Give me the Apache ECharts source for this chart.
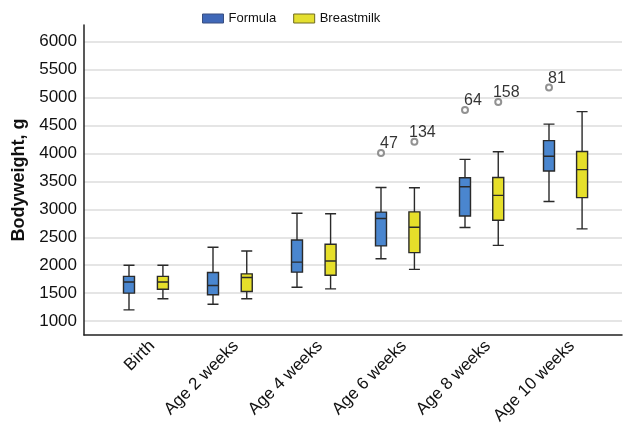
<!DOCTYPE html>
<html>
<head>
<meta charset="utf-8">
<script src="https://cdn.jsdelivr.net/npm/echarts@6/dist/echarts.min.js"></script>
<style>html,body{margin:0;padding:0;background:#fff}#c{width:624px;height:427px}</style>
</head>
<body>
<div id="c"></div>
<script>
const categories = ['Birth', 'Age 2 weeks', 'Age 4 weeks', 'Age 6 weeks', 'Age 8 weeks', 'Age 10 weeks'];
// [min, Q1, median, Q3, max]
const formulaBoxes = [
  [1200, 1500, 1700, 1800, 2000],
  [1300, 1470, 1635, 1870, 2320],
  [1605, 1875, 2055, 2450, 2930],
  [2115, 2345, 2835, 2950, 3390],
  [2675, 2880, 3405, 3565, 3895],
  [3140, 3685, 3950, 4230, 4525]
];
const breastmilkBoxes = [
  [1400, 1570, 1700, 1800, 2000],
  [1400, 1530, 1780, 1845, 2255],
  [1575, 1820, 2075, 2375, 2920],
  [1925, 2225, 2680, 2955, 3385],
  [2355, 2805, 3250, 3570, 4030],
  [2650, 3210, 3710, 4035, 4750]
];
// [category index, value, case id]
const formulaOutliers = [[3, 4010, '47'], [4, 4780, '64'], [5, 5180, '81']];
const breastmilkOutliers = [[3, 4210, '134'], [4, 4920, '158']];
const yTicks = [1000, 1500, 2000, 2500, 3000, 3500, 4000, 4500, 5000, 5500, 6000];
const yMin = 750, yMax = 6300;

const FONT = "'Liberation Sans', Arial, sans-serif";
const chart = echarts.init(document.getElementById('c'), null, {renderer: 'canvas'});
const hiddenY = (gi) => ({type: 'value', gridIndex: gi, min: yMin, max: yMax, show: false});
const outlierSeries = (name, data, xi) => ({
  name: name, type: 'scatter', xAxisIndex: xi, yAxisIndex: xi,
  data: data, symbol: 'emptyCircle', symbolSize: 6,
  itemStyle: {color: '#777', borderWidth: 1},
  label: {show: true, position: 'top', distance: 0, offset: [8, 3],
    formatter: p => p.value[2], fontFamily: FONT, fontSize: 16, color: '#000'},
  z: 5
});
chart.setOption({
  animation: false,
  textStyle: {fontFamily: FONT},
  legend: {
    data: [
      {name: 'Formula', itemStyle: {color: '#4068b8', borderColor: '#3a4f80', borderWidth: 1}},
      {name: 'Breastmilk', itemStyle: {color: '#e4df30', borderColor: '#6f6a20', borderWidth: 1}}
    ],
    left: 197, top: 7, icon: 'rect',
    itemWidth: 21, itemHeight: 9, itemGap: 17,
    textStyle: {fontFamily: FONT, fontSize: 13, color: '#111'}
  },
  grid: [
    {left: 84, right: 2, top: 25, bottom: 92},
    {left: 87, right: 33, top: 25, bottom: 92},
    {left: 121, right: -1, top: 25, bottom: 92},
    {left: 110, right: 10, top: 25, bottom: 92}
  ],
  xAxis: [
    {type: 'value', gridIndex: 0, min: 0, max: 1, axisLine: {show: true, onZero: false, lineStyle: {color: '#222', width: 1.5}},
      axisTick: {show: false}, axisLabel: {show: false}, splitLine: {show: false}},
    {type: 'category', gridIndex: 1, data: categories, show: false},
    {type: 'category', gridIndex: 2, data: categories, show: false},
    {type: 'category', gridIndex: 3, data: categories, axisLine: {show: false}, axisTick: {show: false},
      axisLabel: {rotate: 45, margin: 10, interval: 0, fontFamily: FONT, fontSize: 17, color: '#111'}}
  ],
  yAxis: [
    {type: 'value', gridIndex: 0, min: yMin, max: yMax,
      name: 'Bodyweight, g', nameLocation: 'middle', nameGap: 56,
      nameTextStyle: {fontFamily: FONT, fontSize: 18, fontWeight: 'bold', color: '#111'},
      axisLine: {show: true, lineStyle: {color: '#222', width: 1.5}},
      axisTick: {show: false, customValues: yTicks},
      axisLabel: {customValues: yTicks, formatter: v => String(v), margin: 7, fontFamily: FONT, fontSize: 17, color: '#111'},
      splitLine: {show: true, lineStyle: {color: '#dcdcdc', width: 1.5}}},
    hiddenY(1), hiddenY(2), hiddenY(3)
  ],
  series: [
    {name: 'Formula', type: 'boxplot', xAxisIndex: 1, yAxisIndex: 1, data: formulaBoxes,
      boxWidth: [11, 11], itemStyle: {color: '#4a86cf', borderColor: '#2a2a2a', borderWidth: 1.4}},
    {name: 'Breastmilk', type: 'boxplot', xAxisIndex: 2, yAxisIndex: 2, data: breastmilkBoxes,
      boxWidth: [11, 11], itemStyle: {color: '#e6df2a', borderColor: '#2a2a2a', borderWidth: 1.4}},
    outlierSeries('Formula outliers', formulaOutliers, 1),
    outlierSeries('Breastmilk outliers', breastmilkOutliers, 2)
  ]
});
</script>
</body>
</html>
